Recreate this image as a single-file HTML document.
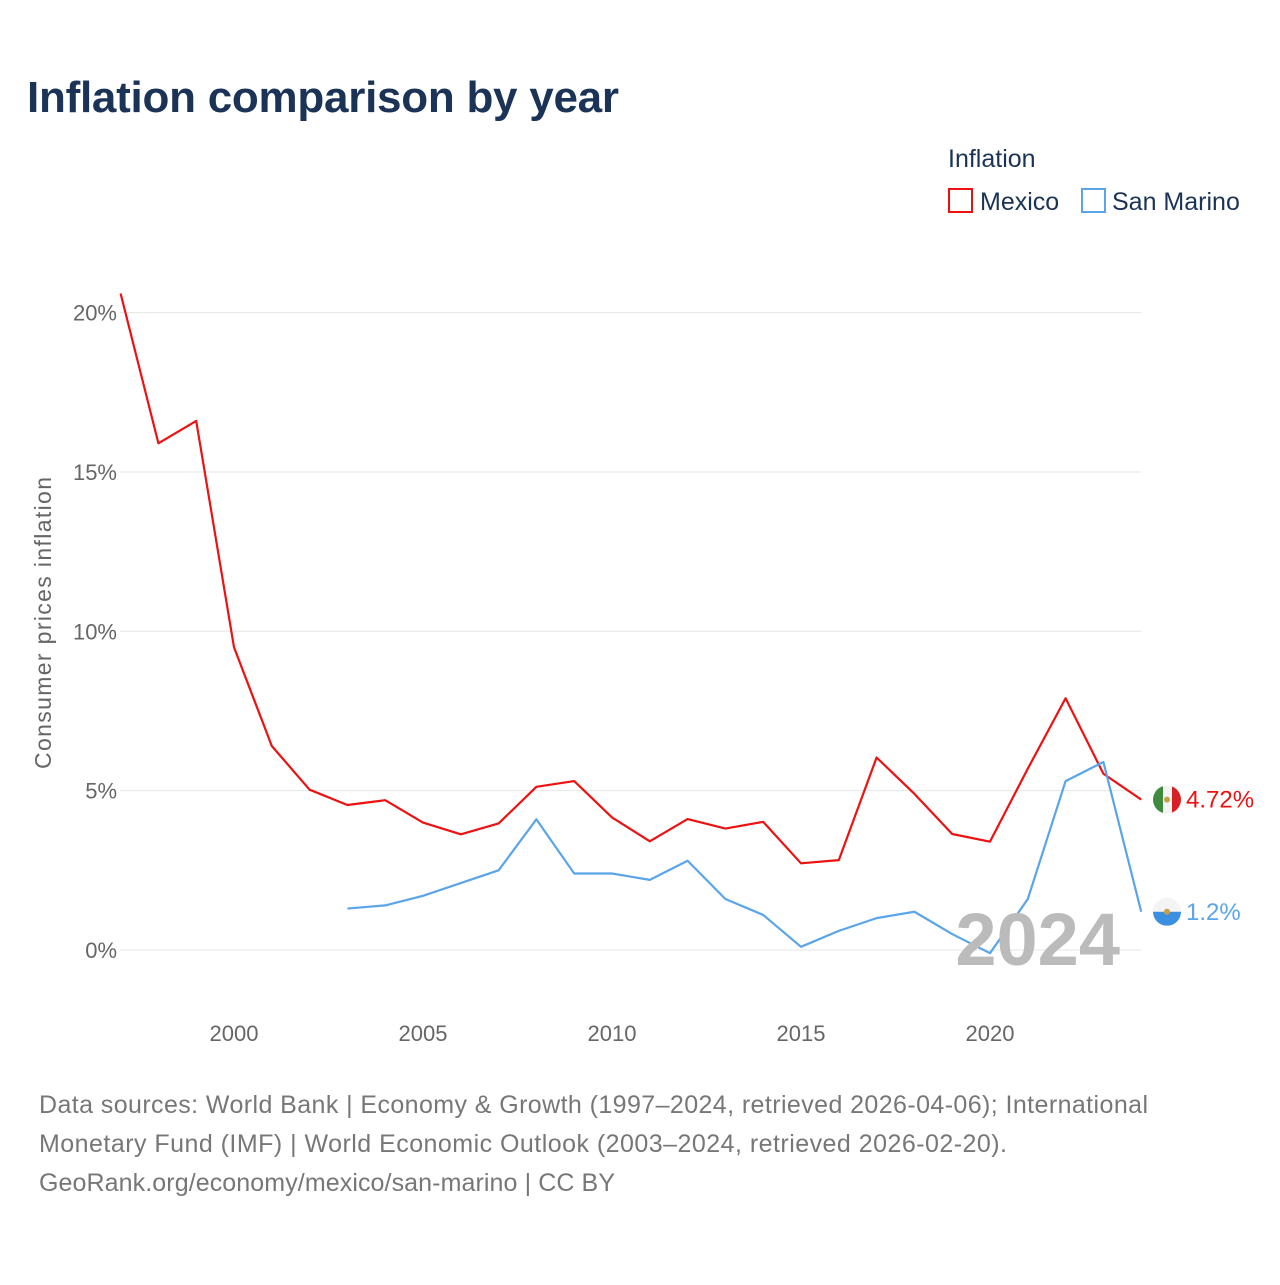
<!DOCTYPE html>
<html><head><meta charset="utf-8"><style>
body{margin:0;background:#fff;font-family:"Liberation Sans",sans-serif;}
</style></head><body>
<svg id="chart" width="1280" height="1280" xmlns="http://www.w3.org/2000/svg" font-family="Liberation Sans, sans-serif">
<rect width="1280" height="1280" fill="#fff"/>
<text x="27" y="112" font-size="44" font-weight="bold" fill="#1a3356" textLength="592">Inflation comparison by year</text>
<text x="948" y="167" font-size="25" fill="#1a3356">Inflation</text>
<rect x="949" y="189" width="23" height="23" fill="none" stroke="#ee1111" stroke-width="2"/>
<text x="980" y="210" font-size="25" fill="#1a3356">Mexico</text>
<rect x="1082" y="189" width="23" height="23" fill="none" stroke="#5aa5ea" stroke-width="2"/>
<text x="1112" y="210" font-size="25" fill="#1a3356">San Marino</text>
<text transform="translate(51,623) rotate(-90)" text-anchor="middle" font-size="23" fill="#666" textLength="292">Consumer prices inflation</text>
<g id="grid"></g><g id="xt"></g><g id="lines"></g>
<text x="1120" y="965" text-anchor="end" font-size="74" font-weight="bold" fill="#bbb">2024</text>
<g font-size="25" fill="#777">
<text x="39" y="1113" textLength="1109">Data sources: World Bank | Economy &amp; Growth (1997–2024, retrieved 2026-04-06); International</text>
<text x="39" y="1152" textLength="968">Monetary Fund (IMF) | World Economic Outlook (2003–2024, retrieved 2026-02-20).</text>
<text x="39" y="1191" textLength="576">GeoRank.org/economy/mexico/san-marino | CC BY</text>
</g>
</svg>
<script>
const years=[1997,1998,1999,2000,2001,2002,2003,2004,2005,2006,2007,2008,2009,2010,2011,2012,2013,2014,2015,2016,2017,2018,2019,2020,2021,2022,2023,2024];
const mexico=[20.6,15.9,16.6,9.5,6.4,5.03,4.55,4.7,4.0,3.63,3.97,5.12,5.3,4.16,3.41,4.11,3.81,4.02,2.72,2.82,6.04,4.9,3.64,3.4,5.69,7.9,5.53,4.72];
const smYears=[2003,2004,2005,2006,2007,2008,2009,2010,2011,2012,2013,2014,2015,2016,2017,2018,2019,2020,2021,2022,2023,2024];
const sanMarino=[1.3,1.4,1.7,2.1,2.5,4.1,2.4,2.4,2.2,2.8,1.6,1.1,0.1,0.6,1.0,1.2,0.5,-0.1,1.6,5.3,5.9,1.2];
const yTicks=[0,5,10,15,20];
const xTicks=[2000,2005,2010,2015,2020];
const NS='http://www.w3.org/2000/svg';
const x=v=>120.6+(v-1997)*37.8;
const y=v=>950-v*31.87;
function mk(t,a,p){const e=document.createElementNS(NS,t);for(const k in a)e.setAttribute(k,a[k]);p.appendChild(e);return e;}
const grid=document.getElementById('grid');
yTicks.forEach(t=>{
 const l=mk('line',{x1:120,x2:1141,y1:y(t),y2:y(t),stroke:'#e6e6e6','stroke-width':1},grid);
 
 
 const tx=mk('text',{x:117,y:y(t)+8,'text-anchor':'end','font-size':22,fill:'#666'},grid);
 tx.textContent=t+'%';
 
 
});
const xt=document.getElementById('xt');
xTicks.forEach(t=>{
 const tx=mk('text',{x:x(t),y:1041,'text-anchor':'middle','font-size':22,fill:'#666'},xt);
 tx.textContent=t;
 
 
});
const lines=document.getElementById('lines');
function flag(name,cy,parts){
 const g=mk('g',{},lines);
 
 
 const cp=mk('clipPath',{id:'clip-'+name},g);
 mk('circle',{cx:1167,cy:cy,r:14},cp);
 const inner=mk('g',{'clip-path':'url(#clip-'+name+')'},g);
 parts.forEach(p=>mk('rect',{x:p[0],y:p[1]+cy,width:p[2],height:p[3],fill:p[4]},inner));
 mk('circle',{cx:1167,cy:cy,r:3,fill:'#c8a040'},g);
}
function series(xs,vs,c,name,label,parts){
 const p=mk('polyline',{points:xs.map((yr,i)=>x(yr)+','+y(vs[i])).join(' '),fill:'none',stroke:c,'stroke-width':2.2,'stroke-linejoin':'round'},lines);
 
 
 const lv=vs[vs.length-1],ly=y(lv);
 flag(name,ly,parts);
 const t=mk('text',{x:1186,y:ly+8,'font-size':24,fill:c},lines);
 t.textContent=label(lv);
 
 
}
series(years,mexico,'#ee1111','mexico',v=>v.toFixed(2)+'%',
 [[1153,-14,10,28,'#3f8a3f'],[1163,-14,9,28,'#f4f4f4'],[1172,-14,10,28,'#d81f26']]);
series(smYears,sanMarino,'#5aa5ea','san-marino',v=>v+'%',
 [[1153,-14,28,14,'#f4f4f4'],[1153,0,28,14,'#3a8fe0']]);
</script>
</body></html>
